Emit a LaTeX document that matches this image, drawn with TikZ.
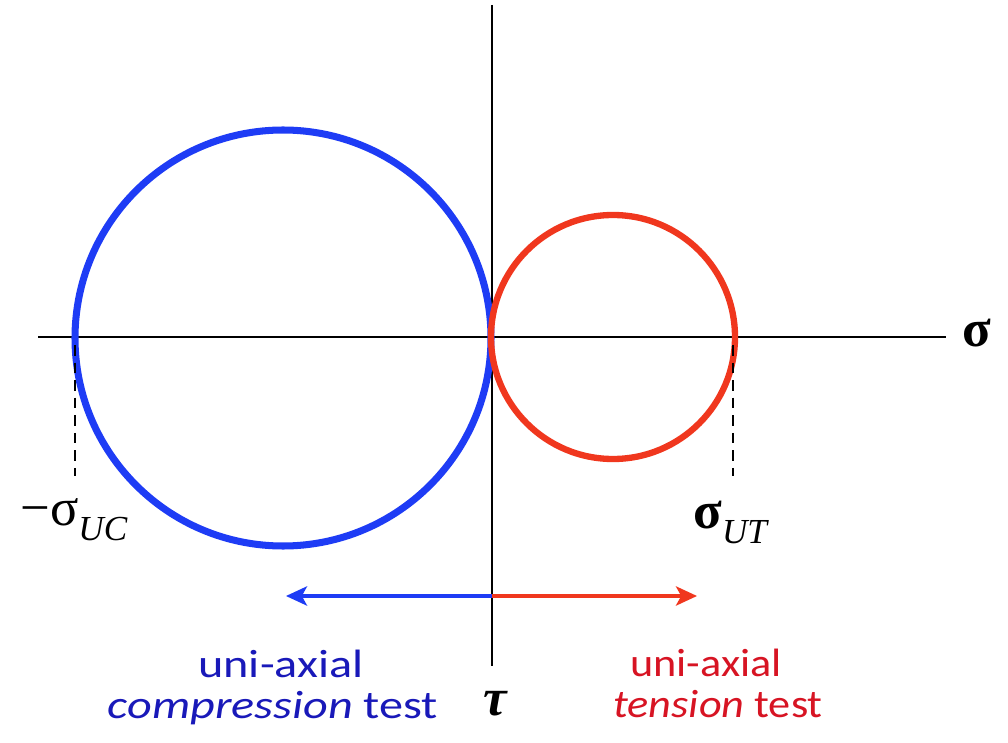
\documentclass[tikz,border=0pt]{standalone}
\usepackage{fontspec}
\setmainfont{Carlito}
\newfontfamily\gk{Liberation Serif}
\usetikzlibrary{arrows.meta}
\definecolor{cblue}{RGB}{30,60,245}
\definecolor{cred}{RGB}{240,55,30}
\definecolor{tblue}{RGB}{25,25,185}
\definecolor{tred}{RGB}{215,20,35}
\newcommand{\subsc}[1]{\textnormal{\fontsize{20}{22}\selectfont\gk\itshape\raisebox{-9pt}{#1}}}
\newcommand{\wideb}[1]{\scalebox{1.22}[1]{#1}}
\newcommand{\wider}[1]{\scalebox{1.12}[1]{#1}}
\tikzset{
  axis/.style={line width=1.2pt,black},
  dashline/.style={line width=1pt,dash pattern=on 6pt off 4pt},
  sym/.style={font=\fontsize{30}{34}\selectfont\gk,inner sep=0pt},
  bsym/.style={font=\fontsize{30}{34}\selectfont\gk\bfseries,inner sep=0pt},
  lblb/.style={font=\fontsize{22.5}{26}\selectfont,inner sep=0pt,anchor=base,text=tblue},
  lblr/.style={font=\fontsize{22.5}{26}\selectfont,inner sep=0pt,anchor=base,text=tred},
  harrow/.style={line width=1.8pt,-{Stealth[length=12pt,width=11pt,inset=3pt]}}
}
\begin{document}
\begin{tikzpicture}[x=0.02cm,y=-0.02cm]
\useasboundingbox (0,0) rectangle (1008,743);
% axes
\coordinate (hl) at (38,337);
\coordinate (hr) at (946,337);
\coordinate (vt) at (492,5);
\coordinate (vb) at (492,666);
\draw[axis] (hl) -- (hr);
\draw[axis] (vt) -- (vb);
% circles
\node (bc) [draw=cblue,line width=4pt,circle,minimum size=416*0.02cm,inner sep=0pt] at (283,338) {};
\node (rc) [draw=cred,line width=3.6pt,circle,minimum size=244*0.02cm,inner sep=0pt] at (613,337) {};
% dashed
\coordinate (dl1) at (75,345);
\coordinate (dl2) at (75,476);
\coordinate (dr1) at (733,345);
\coordinate (dr2) at (733,476);
\draw[dashline] (dl1) -- (dl2);
\draw[dashline] (dr1) -- (dr2);
% labels
\node (suc) [sym,anchor=base west] at (20,525) {−σ\subsc{UC}};
\node (sut) [bsym,anchor=base west] at (693,528) {σ\subsc{UT}};
\node (sig) [bsym,anchor=base] at (977,347) {σ};
\node (tau) [bsym,anchor=base] at (495,715) {\itshape τ};
% arrows
\coordinate (ao) at (492,596);
\coordinate (al) at (286,596);
\coordinate (ar) at (697,596);
\draw[harrow,cblue] (ao) -- (al);
\draw[harrow,cred] (ao) -- (ar);
% texts
\node (c1) [lblb] at (281,677) {\wideb{uni-axial}};
\node (c2) [lblb] at (273,718) {\wideb{\textit{compression} test}};
\node (t1) [lblr] at (706,676) {\wider{uni-axial}};
\node (t2) [lblr] at (718,717) {\wider{\textit{tension} test}};
\end{tikzpicture}
\end{document}
